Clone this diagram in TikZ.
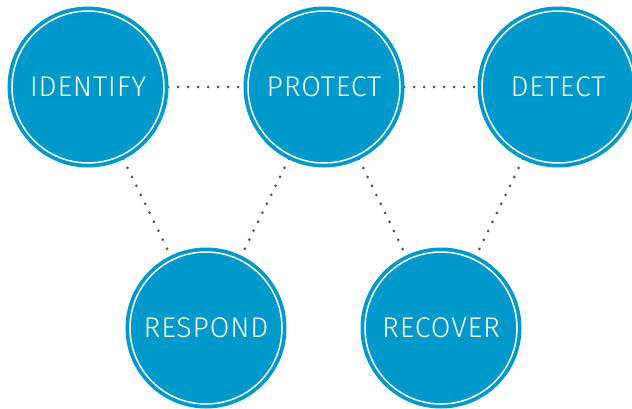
\documentclass[tikz,border=0pt]{standalone}
\usepackage{fontspec}
\IfFontExistsTF{Fira Sans Book}
  {\setmainfont{Fira Sans Book}[LetterSpace=3]}
  {\setmainfont{Fira Sans Light}[LetterSpace=3]}
\usepackage{tikz}
\usetikzlibrary{backgrounds}
\definecolor{stageblue}{RGB}{0,153,204}
\definecolor{dotgray}{RGB}{85,85,85}

\begin{document}
\begin{tikzpicture}[x=1pt, y=-1pt,
        stage/.style={circle, fill=stageblue, draw=white, line width=1.5pt,
                      minimum size=152pt, inner sep=0pt, text=white,
                      font=\fontsize{28.5}{30}\selectfont,
                      preaction={draw=stageblue, line width=9pt}},
        link/.style={dotgray, line width=3pt, line cap=round,
                     dash pattern=on 0pt off 10pt}]
        \useasboundingbox (0,0) rectangle (632,409);
        \node [stage] (identify) at (88,87)   {IDENTIFY};      % top row
        \node [stage] (protect)  at (324,87)  {PROTECT};       %
        \node [stage] (detect)   at (558,87)  {DETECT};        %
        \node [stage] (respond)  at (206,328) {RESPOND};       % bottom row
        \node [stage] (recover)  at (441,328) {RECOVER};       %
        \begin{scope}[on background layer]
        \draw [link] (identify.center) -- (protect.center);    %
        \draw [link] (protect.center)  -- (detect.center);     %
        \draw [link] (identify.center) -- (respond.center);    %
        \draw [link] (protect.center)  -- (respond.center);    %
        \draw [link] (protect.center)  -- (recover.center);    %
        \draw [link] (detect.center)   -- (recover.center);    %
        \end{scope}
\end{tikzpicture}
\end{document}
